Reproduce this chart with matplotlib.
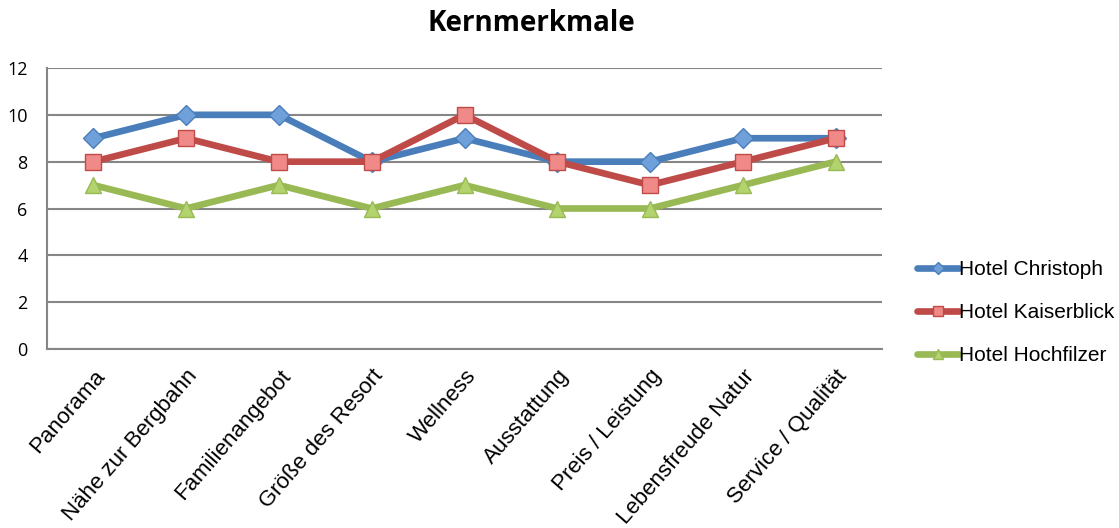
import matplotlib
matplotlib.use("Agg")
import matplotlib.pyplot as plt
from matplotlib import font_manager

categories = ["Panorama", "Nähe zur Bergbahn", "Familienangebot", "Größe des Resort",
              "Wellness", "Ausstattung", "Preis / Leistung", "Lebensfreude Natur",
              "Service / Qualität"]
christoph = [9, 10, 10, 8, 9, 8, 8, 9, 9]
kaiserblick = [8, 9, 8, 8, 10, 8, 7, 8, 9]
hochfilzer = [7, 6, 7, 6, 7, 6, 6, 7, 8]
series_names = ["Hotel Christoph", "Hotel Kaiserblick", "Hotel Hochfilzer"]
yticks = [0, 2, 4, 6, 8, 10, 12]

names = {f.name for f in font_manager.fontManager.ttflist}
narrow = "Liberation Sans Narrow" if "Liberation Sans Narrow" in names else "Liberation Sans"

fig = plt.figure(figsize=(11.19, 5.28), dpi=100)
ax = fig.add_axes([47/1119, 1-349/528, (882-47)/1119, (349-68)/528])

x = list(range(len(categories)))
styles = [
    (christoph, "#4A7EBB", "D", "#6FA0DA", 10),
    (kaiserblick, "#BE4B48", "s", "#F08A88", 11),
    (hochfilzer, "#98B954", "^", "#B3D36E", 11),
]
for (vals, col, mk, fc, ms), name in zip(styles, series_names):
    ax.plot(x, vals, color=col, lw=4.8, marker=mk, markersize=ms,
            markerfacecolor=fc, markeredgecolor=col, markeredgewidth=1,
            label=name, solid_joinstyle="round", solid_capstyle="round", zorder=3)

ax.set_xlim(-0.5, len(categories) - 0.5)
ax.set_ylim(0, 12)
ax.set_yticks(yticks)
ax.set_yticklabels([str(v) for v in yticks], family="Open Sans", fontsize=13)
ax.yaxis.grid(True, color="#868686", lw=1.5)
ax.set_axisbelow(True)
ax.tick_params(axis="both", length=0)
ax.tick_params(axis="y", pad=14)
ax.set_xticks(x)
ax.set_xticklabels(categories, rotation=49, ha="right", rotation_mode="anchor",
                   family=narrow, fontsize=16)
ax.tick_params(axis="x", pad=12)
for s in ["top", "right"]:
    ax.spines[s].set_visible(False)
for s in ["left", "bottom"]:
    ax.spines[s].set_color("#868686")
    ax.spines[s].set_linewidth(1.5)

leg = ax.legend(loc="center left", bbox_to_anchor=(1.02, 0.13), frameon=False,
                prop={"family": narrow, "size": 15}, handlelength=2.0,
                handletextpad=0.0, labelspacing=1.15, markerscale=0.6)

fig.text(0.475, 0.955, "Kernmerkmale", ha="center", va="center",
         fontsize=20, fontweight="bold", family="Open Sans")

fig.savefig("out.png", dpi=100)
